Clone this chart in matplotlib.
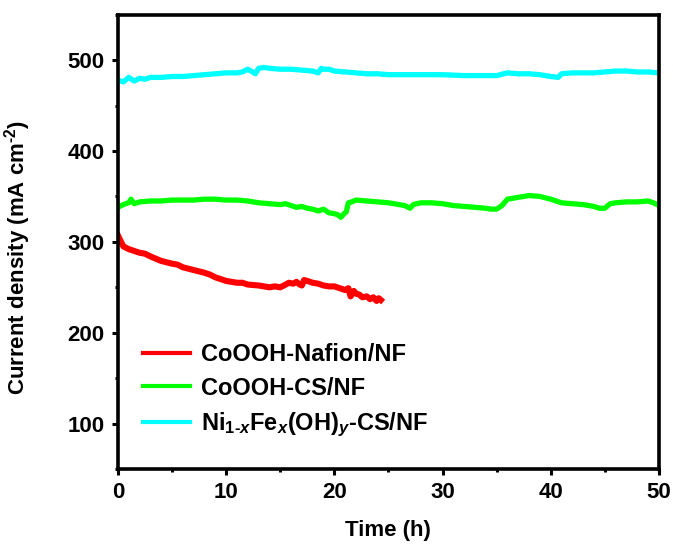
import numpy as np
import matplotlib.pyplot as plt
from matplotlib.ticker import MultipleLocator

plt.rcParams['font.family'] = ['Liberation Sans', 'DejaVu Sans']
plt.rcParams['font.weight'] = 'bold'
plt.rcParams['mathtext.fontset'] = 'custom'
plt.rcParams['mathtext.rm'] = 'Liberation Sans:bold'
plt.rcParams['mathtext.it'] = 'Liberation Sans:bold:italic'
plt.rcParams['mathtext.bf'] = 'Liberation Sans:bold'

# values (time in h, current density in mA cm-2)
t_nafion = [0, 0.2, 0.5, 1, 1.5, 2, 2.5, 3, 4, 5, 5.5, 6, 7, 8, 8.5, 9, 10, 11, 11.5,
            12, 13, 14, 14.5, 15, 15.5, 15.8, 16.2, 16.5, 16.8, 17, 17.2, 17.5, 18, 18.5,
            19, 19.5, 20, 20.5, 21, 21.3, 21.5, 21.8, 22, 22.3, 22.6, 23, 23.3, 23.6,
            23.9, 24.1, 24.3]
j_nafion = [307, 302, 295, 292, 290, 288, 287, 284, 279, 276, 275, 272, 269, 266, 264,
            261, 257, 255, 255, 253, 252, 250, 251, 250, 253, 255, 254, 256, 253, 252,
            258, 257, 255, 254, 252, 251, 251, 249, 247, 249, 240, 246, 243, 242, 239,
            240, 237, 239, 235, 238, 236]

t_cs = [0, 0.3, 0.7, 1, 1.2, 1.5, 2, 3, 4, 5, 6, 7, 8, 9, 10, 11, 12, 13, 14, 15,
        15.5, 16, 16.5, 17, 17.5, 18, 18.5, 19, 19.5, 20, 20.3, 20.6, 20.9, 21.1, 21.3,
        21.6, 22, 23, 24, 25, 26, 26.5, 27, 27.3, 27.6, 28, 29, 30, 31, 32, 33, 34,
        34.5, 35, 35.5, 36, 37, 37.5, 38, 39, 40, 40.5, 41, 42, 43, 44, 44.5, 45,
        45.5, 46, 47, 48, 49, 49.5, 50]
j_cs = [338, 340, 342, 343, 347, 342, 344, 345, 345, 346, 346, 346, 347, 347, 346,
        346, 345, 343, 342, 341, 342, 340, 338, 339, 337, 336, 334, 336, 332, 331, 330,
        327, 331, 333, 343, 344, 346, 345, 344, 343, 341, 340, 337, 341, 342, 343, 343,
        342, 340, 339, 338, 337, 336, 336, 340, 347, 349, 350, 351, 350, 347, 345, 343,
        342, 341, 339, 337, 337, 342, 343, 344, 344, 345, 343, 340]

t_nife = [0, 0.5, 1, 1.5, 2, 2.5, 3, 4, 5, 6, 7, 8, 9, 10, 11, 11.5, 12, 12.3, 12.7,
          13, 13.5, 14, 15, 16, 17, 18, 18.5, 18.8, 19, 19.5, 20, 21, 22, 23, 24, 25,
          26, 28, 30, 32, 34, 35, 36, 37, 38, 39, 40, 40.7, 41, 42, 43, 44, 45, 46,
          47, 48, 49, 50]
j_nife = [478, 476, 481, 477, 480, 479, 481, 481, 482, 482, 483, 484, 485, 486, 486,
          487, 490, 488, 485, 491, 492, 491, 490, 490, 489, 488, 486, 491, 490, 490,
          488, 487, 486, 485, 485, 484, 484, 484, 484, 483, 483, 483, 486, 485, 485,
          484, 482, 481, 485, 486, 486, 486, 487, 488, 488, 487, 487, 486]

labels = ['CoOOH-Nafion/NF', 'CoOOH-CS/NF', r'Ni$_{1\text{-}x}$Fe$_x$(OH)$_y$-CS/NF']
colors = ['#ff0000', '#00ff00', '#00ffff']
widths = [4.4, 3.8, 3.8]

fig = plt.figure(figsize=(6.73, 5.45), dpi=100)
ax = fig.add_axes([0.1753, 0.1394, 0.8037, 0.8336])

for (x, y), lab, c, w in zip([(t_nafion, j_nafion), (t_cs, j_cs), (t_nife, j_nife)],
                             labels, colors, widths):
    ax.plot(x, y, color=c, lw=w, label=lab, solid_joinstyle='round')

ax.set_xlim(0, 50)
ax.set_ylim(50, 550)
ax.set_xticks([0, 10, 20, 30, 40, 50])
ax.set_yticks([100, 200, 300, 400, 500])
ax.xaxis.set_minor_locator(MultipleLocator(5))
ax.yaxis.set_minor_locator(MultipleLocator(50))
ax.tick_params(which='major', direction='out', length=4.5, width=2.2, labelsize=16, pad=5)
ax.tick_params(which='minor', direction='out', length=2.5, width=2.2)
ax.tick_params(top=False, right=False, which='both')
for s in ax.spines.values():
    s.set_linewidth(2.6)
for lbl in ax.get_xticklabels() + ax.get_yticklabels():
    lbl.set_fontweight('bold')

ax.set_xlabel('Time (h)', fontsize=16, fontweight='bold', labelpad=12)
ax.set_ylabel(r'Current density (mA cm$^{\text{-}2}$)', fontsize=16, fontweight='bold')
ax.yaxis.set_label_coords(-0.158, 0.466)

leg = ax.legend(loc='lower left', bbox_to_anchor=(0.007, 0.02), frameon=False,
                prop={'size': 17, 'weight': 'bold'}, handlelength=2.0,
                handletextpad=0.45, labelspacing=0.45, borderaxespad=0.5)
for h in leg.get_lines():
    h.set_linewidth(3)

fig.savefig('out.png', dpi=100)
